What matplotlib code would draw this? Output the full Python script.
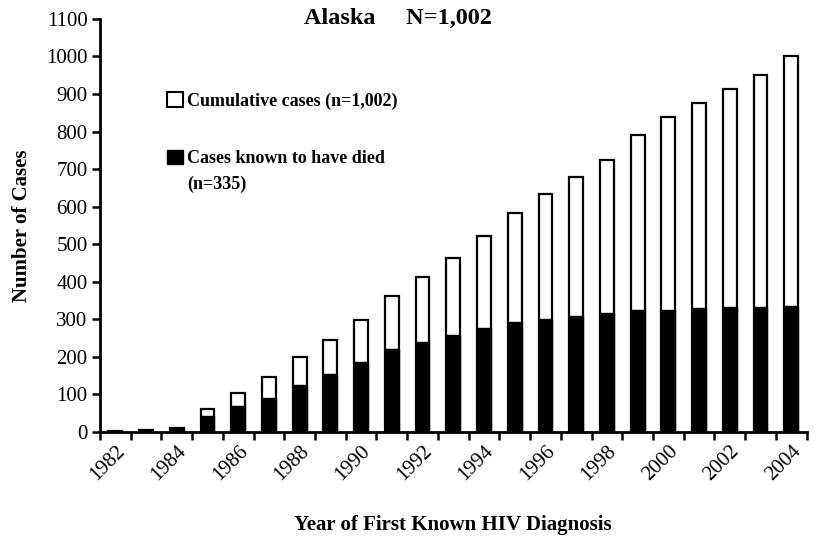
import matplotlib.pyplot as plt
import matplotlib.patches as mpatches
import numpy as np

years = list(range(1982, 2005))
cumulative = [2, 5, 12, 60, 104, 147, 200, 246, 298, 361, 412, 462, 522, 583,
              634, 678, 724, 791, 839, 876, 912, 951, 1002]
died = [1, 3, 10, 42, 69, 91, 126, 155, 186, 222, 240, 258, 277, 294,
        302, 308, 317, 324, 325, 330, 333, 334, 335]

plt.rcParams['font.family'] = ['Liberation Serif', 'DejaVu Serif']

fig = plt.figure(figsize=(8.16, 5.38), dpi=100)
ax = fig.add_axes([0.1225, 0.197, 0.866, 0.768])

x = np.arange(len(years))
ax.bar(x, cumulative, width=0.45, color='white', edgecolor='black', linewidth=1.6, zorder=2)
ax.bar(x, died, width=0.45, color='black', edgecolor='black', linewidth=1.0, zorder=3)

ax.set_xlim(-0.5, len(years) - 0.5)
ax.set_ylim(0, 1100)
ax.set_yticks(range(0, 1101, 100))

ax.set_xticks(x[::2])
ax.set_xticklabels([str(y) for y in years[::2]], rotation=45, ha='right',
                   rotation_mode='anchor')
ax.set_xticks(np.arange(-0.5, len(years), 1), minor=True)
ax.tick_params(axis='x', which='major', length=0, pad=7, labelsize=15)
ax.tick_params(axis='x', which='minor', length=6, width=1.8, direction='out')
ax.tick_params(axis='y', length=6, width=1.8, direction='out', labelsize=15, pad=3)

for s in ['top', 'right']:
    ax.spines[s].set_visible(False)
for s in ['left', 'bottom']:
    ax.spines[s].set_linewidth(2)

ax.set_ylabel('Number of Cases', fontsize=15, fontweight='bold', labelpad=10)
ax.set_xlabel('Year of First Known HIV Diagnosis', fontsize=15, fontweight='bold', labelpad=22)
fig.text(0.488, 0.965, 'Alaska     N=1,002', ha='center', va='center',
         fontsize=17.5, fontweight='bold')

white_patch = mpatches.Patch(facecolor='white', edgecolor='black', linewidth=1.5)
black_patch = mpatches.Patch(facecolor='black', edgecolor='black')
blank = mpatches.Patch(facecolor='none', edgecolor='none')

leg1 = ax.legend([white_patch], ['Cumulative cases (n=1,002)'], loc='upper left',
                 bbox_to_anchor=(0.085, 0.84), frameon=False, handlelength=0.85,
                 handleheight=0.85, handletextpad=0.25, borderaxespad=0,
                 prop={'size': 13, 'weight': 'bold'})
ax.add_artist(leg1)
ax.legend([black_patch, blank], ['Cases known to have died', '(n=335)'], loc='upper left',
          bbox_to_anchor=(0.085, 0.70), frameon=False, handlelength=0.85,
          handleheight=0.85, handletextpad=0.25, borderaxespad=0, labelspacing=0.45,
          prop={'size': 13, 'weight': 'bold'})

fig.savefig('out.png', dpi=100)
